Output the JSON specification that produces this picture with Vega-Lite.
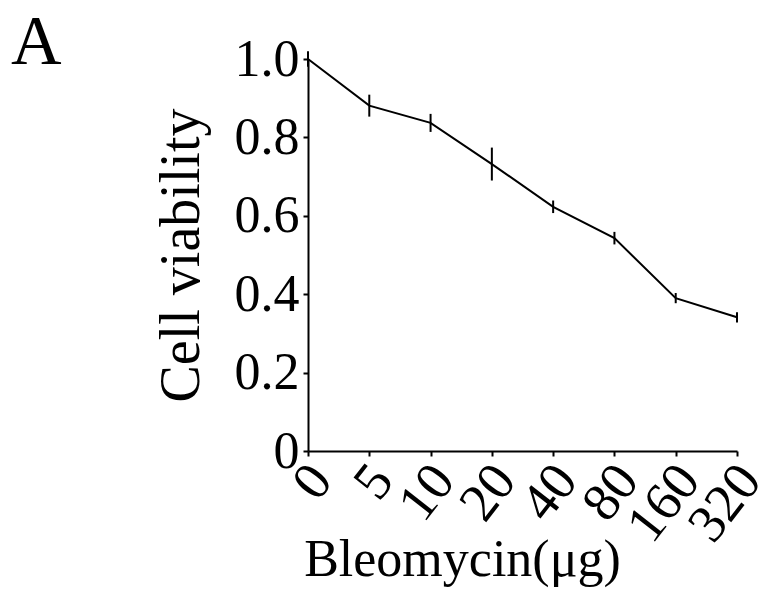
{
  "$schema": "https://vega.github.io/schema/vega-lite/v6.json",
  "width": 429,
  "height": 392,
  "autosize": {"type": "none"},
  "padding": {"left": 308, "top": 59, "right": 27, "bottom": 146},
  "background": "white",
  "title": {
    "text": "A",
    "anchor": "start",
    "frame": "group",
    "font": "Liberation Serif",
    "fontSize": 70,
    "fontWeight": "normal",
    "color": "black",
    "dx": -297,
    "offset": -46
  },
  "config": {
    "view": {"stroke": null},
    "font": "Liberation Serif"
  },
  "data": {
    "values": [
      {"dose": "0", "mean": 1.0, "err": 0.02},
      {"dose": "5", "mean": 0.881, "err": 0.028},
      {"dose": "10", "mean": 0.837, "err": 0.023},
      {"dose": "20", "mean": 0.732, "err": 0.042},
      {"dose": "40", "mean": 0.623, "err": 0.016},
      {"dose": "80", "mean": 0.543, "err": 0.016},
      {"dose": "160", "mean": 0.39, "err": 0.013},
      {"dose": "320", "mean": 0.341, "err": 0.013}
    ]
  },
  "encoding": {
    "x": {
      "field": "dose",
      "type": "ordinal",
      "sort": ["0", "5", "10", "20", "40", "80", "160", "320"],
      "scale": {"type": "point", "padding": 0},
      "axis": {
        "title": "Bleomycin(μg)",
        "titleFont": "Liberation Serif",
        "titleFontSize": 52,
        "titleFontWeight": "normal",
        "titleColor": "black",
        "titleX": 154,
        "titleY": 124,
        "titleAlign": "center",
        "titleBaseline": "alphabetic",
        "labelFont": "Liberation Serif",
        "labelFontSize": 54,
        "labelColor": "black",
        "labelAngle": -52,
        "labelPadding": 15,
        "labelOffset": 13,
        "labelOverlap": false,
        "labelFlush": false,
        "domainColor": "black",
        "domainWidth": 2,
        "tickColor": "black",
        "tickWidth": 2,
        "tickSize": 5,
        "grid": false
      }
    },
    "y": {
      "field": "mean",
      "type": "quantitative",
      "scale": {"domain": [0, 1], "nice": false},
      "axis": {
        "title": "Cell viability",
        "titleFont": "Liberation Serif",
        "titleFontSize": 56,
        "titleFontWeight": "normal",
        "titleColor": "black",
        "titlePadding": 24,
        "values": [0, 0.2, 0.4, 0.6, 0.8, 1.0],
        "labelExpr": "datum.value == 0 ? '0' : format(datum.value, '.1f')",
        "labelFont": "Liberation Serif",
        "labelFontSize": 52,
        "labelColor": "black",
        "labelPadding": 4,
        "labelFlush": false,
        "labelOverlap": false,
        "domainColor": "black",
        "domainWidth": 2,
        "tickColor": "black",
        "tickWidth": 2,
        "tickSize": 5,
        "grid": false
      }
    }
  },
  "layer": [
    {
      "mark": {"type": "line", "color": "black", "strokeWidth": 2}
    },
    {
      "mark": {"type": "errorbar", "color": "black", "thickness": 2},
      "encoding": {
        "yError": {"field": "err"}
      }
    }
  ]
}
